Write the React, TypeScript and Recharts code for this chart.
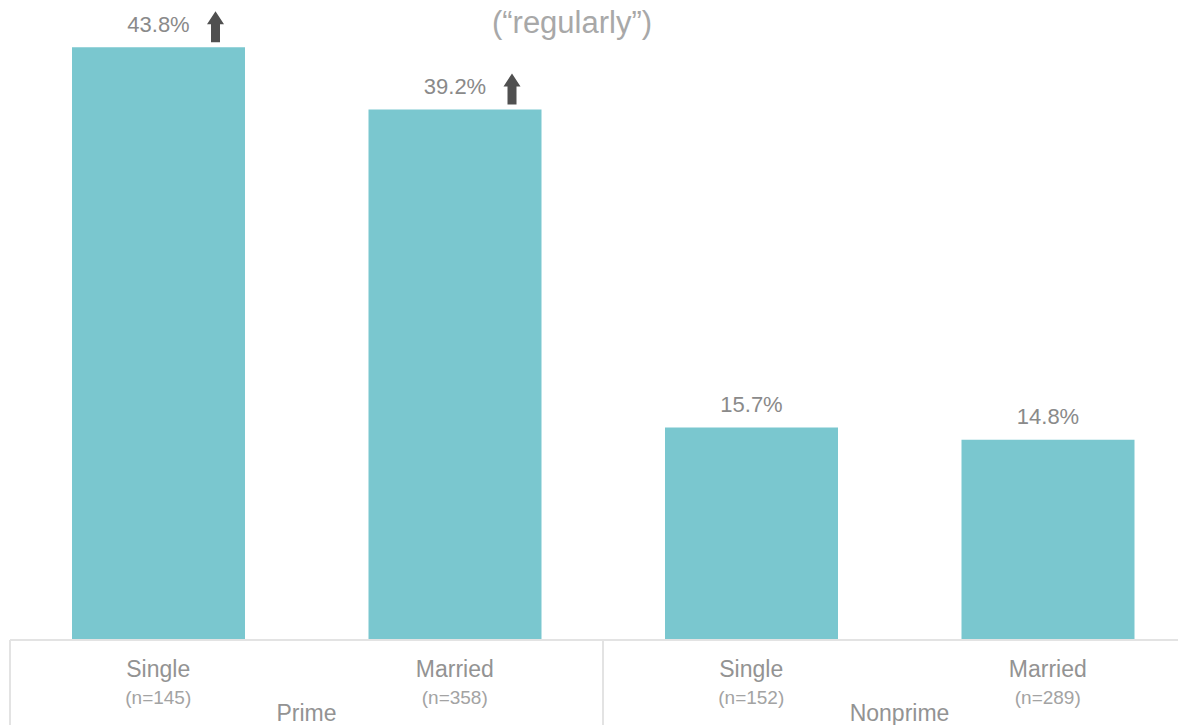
import React from "react"
import { BarChart, Bar, XAxis, YAxis, LabelList } from "recharts"

const categories = ["Single", "Married", "Single", "Married"]
const sampleSizes = ["(n=145)", "(n=358)", "(n=152)", "(n=289)"]
const groups = ["Prime", "Prime", "Nonprime", "Nonprime"]
const values = [43.8, 39.2, 15.7, 14.8]
const significantUp = [true, true, false, false]

const data = categories.map((c, i) => ({
  key: `${groups[i]}-${c}`,
  category: c,
  n: sampleSizes[i],
  group: groups[i],
  value: values[i],
}))

const FONT = "Arial, 'Liberation Sans', sans-serif"
const LINE = "#E3E3E3"

function CategoryTick(props: any) {
  const { x, y, payload, index } = props
  const i = index ?? payload.index
  const half = payload.offset ?? 148
  const showGroup = i === 0 || i === 2
  return (
    <g fontFamily={FONT}>
      <text x={x} y={y + 37} textAnchor="middle" fontSize={23} fill="#939393">
        {categories[i]}
      </text>
      <text x={x} y={y + 64} textAnchor="middle" fontSize={19} fill="#A3A3A3">
        {sampleSizes[i]}
      </text>
      {showGroup && (
        <>
          <text x={x + half} y={y + 81} textAnchor="middle" fontSize={23} fill="#939393">
            {groups[i]}
          </text>
          <line x1={x - half} x2={x - half} y1={y} y2={y + 90} stroke={LINE} strokeWidth={2} />
        </>
      )}
      {i === 3 && <line x1={x + half} x2={x + half} y1={y} y2={y + 90} stroke={LINE} strokeWidth={2} />}
    </g>
  )
}

function ValueLabel(props: any) {
  const { x, y, width, value, index } = props
  const cx = x + width / 2
  const ax = cx + 57
  const bottom = y - 5
  const top = y - 36
  return (
    <g>
      <text
        x={cx}
        y={y - 23}
        textAnchor="middle"
        dominantBaseline="central"
        fontSize={22}
        fontFamily={FONT}
        fill="#8A8A8A"
      >
        {`${value}%`}
      </text>
      {significantUp[index] && (
        <path
          d={`M${ax - 4.5},${bottom} L${ax + 4.5},${bottom} L${ax + 4.5},${top + 13} L${ax + 8.5},${top + 13} L${ax},${top} L${ax - 8.5},${top + 13} L${ax - 4.5},${top + 13} Z`}
          fill="#505050"
        />
      )}
    </g>
  )
}

export default function App() {
  return (
    <div
      style={{
        position: "absolute",
        left: 0,
        top: 0,
        width: 1178,
        height: 725,
        overflow: "hidden",
        background: "#fff",
      }}
    >
      <div
        style={{
          position: "absolute",
          left: 0,
          width: 1144,
          top: 5,
          lineHeight: "36px",
          textAlign: "center",
          fontFamily: FONT,
          fontSize: 31,
          color: "#A8A8A8",
        }}
      >
        (“regularly”)
      </div>
      <BarChart
        width={1200}
        height={725}
        data={data}
        margin={{ top: 31, right: 4, left: 10, bottom: 0 }}
        barSize={173}
      >
        <XAxis
          dataKey="key"
          height={85}
          axisLine={{ stroke: LINE, strokeWidth: 2 }}
          tickLine={false}
          tickSize={0}
          tickMargin={0}
          interval={0}
          tick={<CategoryTick />}
        />
        <YAxis hide domain={[0, 45]} />
        <Bar dataKey="value" fill="#7AC7CF" isAnimationActive={false}>
          <LabelList dataKey="value" content={<ValueLabel />} />
        </Bar>
      </BarChart>
    </div>
  )
}
